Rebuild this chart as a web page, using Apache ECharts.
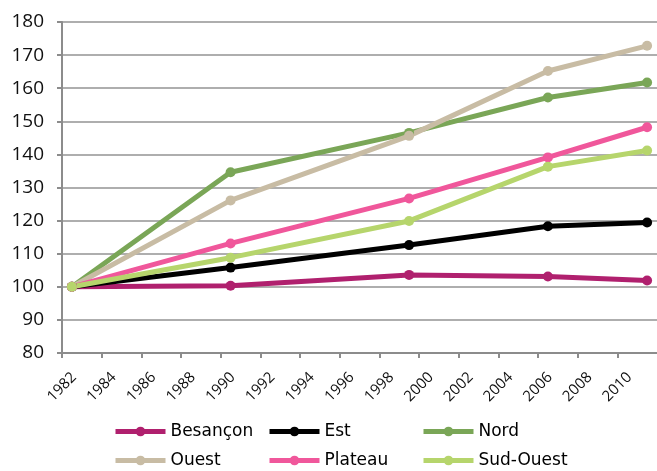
<!DOCTYPE html>
<html>
<head>
<meta charset="utf-8">
<script src="https://cdn.jsdelivr.net/npm/echarts@6/dist/echarts.min.js"></script>
<style>
  html, body { margin: 0; padding: 0; background: #fff; }
  #chart { width: 657px; height: 471px; }
</style>
</head>
<body>
<div id="chart"></div>
<script>
// census years (indice base 100 en 1982)
var years = [1982, 1990, 1999, 2006, 2011];
var names = ['Besançon', 'Est', 'Nord', 'Ouest', 'Plateau', 'Sud-Ouest'];
var besancon = [100, 100.3, 103.6, 103.1, 101.9];
var est = [100, 105.8, 112.6, 118.3, 119.4];
var nord = [100, 134.6, 146.5, 157.2, 161.7];
var ouest = [100, 126.1, 145.6, 165.2, 172.8];
var plateau = [100, 113.1, 126.7, 139.1, 148.2];
var sudOuest = [100, 108.8, 119.9, 136.3, 141.2];
var colors = ['#b0206e', '#000000', '#7aa657', '#c8bca4', '#f0579b', '#b6d56c'];

var values = [besancon, est, nord, ouest, plateau, sudOuest];

// Excel date axis puts each point in the middle of its year
function pairs(vals) {
    var out = [];
    for (var i = 0; i < years.length; i++) {
        out.push([years[i] + 0.5, vals[i]]);
    }
    return out;
}

var series = [];
for (var i = 0; i < names.length; i++) {
    series.push({
        name: names[i],
        type: 'line',
        data: pairs(values[i]),
        symbol: 'circle',
        symbolSize: 10,
        lineStyle: { width: 5, color: colors[i] },
        itemStyle: { color: colors[i] }
    });
}

// legend laid out in 3 columns of 2 rows, like the Excel one
function legendCol(left, items) {
    return {
        orient: 'vertical',
        data: items,
        left: left,
        top: 422,
        padding: 0,
        itemWidth: 50,
        itemHeight: 12,
        itemGap: 10,
        lineStyle: { width: 5 },
        textStyle: { fontFamily: 'DejaVu Sans', fontSize: 17, color: '#000', lineHeight: 19, height: 19 }
    };
}

var chart = echarts.init(document.getElementById('chart'));
chart.setOption({
    animation: false,
    color: colors,
    grid: { left: 62, top: 22, right: -7, bottom: 118, containLabel: false },
    xAxis: {
        type: 'value',
        min: 1982,
        max: 2012,
        interval: 2,
        splitLine: { show: false },
        axisLine: { lineStyle: { color: '#8c8c8c', width: 2 } },
        axisTick: { length: 5, lineStyle: { color: '#8c8c8c', width: 2 } },
        axisLabel: {
            rotate: 45,
            margin: 34,
            align: 'center',
            verticalAlign: 'middle',
            showMaxLabel: false,
            color: '#111',
            fontFamily: 'Open Sans',
            fontSize: 15,
            formatter: function (v) { return String(v); }
        }
    },
    yAxis: {
        type: 'value',
        min: 80,
        max: 180,
        interval: 10,
        axisLine: { show: true, lineStyle: { color: '#8c8c8c', width: 2 } },
        axisTick: { show: true, length: 5, lineStyle: { color: '#8c8c8c', width: 2 } },
        splitLine: { lineStyle: { color: '#939393', width: 1.5 } },
        axisLabel: {
            margin: 18,
            color: '#111',
            fontFamily: 'Open Sans',
            fontSize: 19
        }
    },
    legend: [
        legendCol(113, ['Besançon', 'Ouest']),
        legendCol(267, ['Est', 'Plateau']),
        legendCol(421, ['Nord', 'Sud-Ouest'])
    ],
    series: series
});
</script>
</body>
</html>
